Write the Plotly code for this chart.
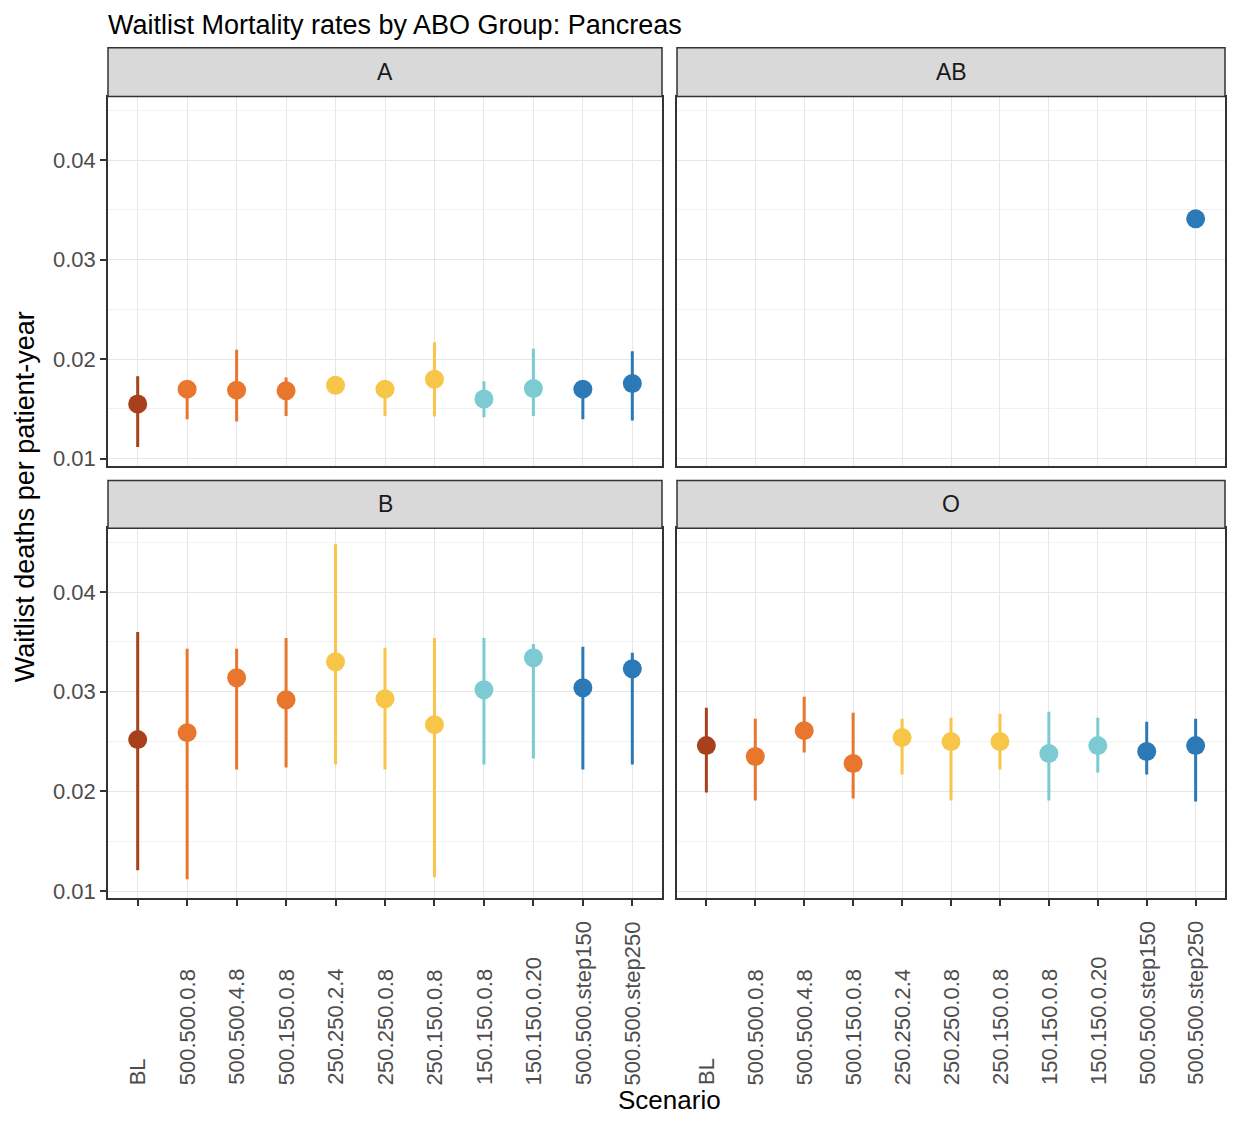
import plotly.graph_objects as go

W, H = 1235, 1131
OFF = 8  # default body margin of the page

scenarios = ["BL", "500.500.0.8", "500.500.4.8", "500.150.0.8", "250.250.2.4",
             "250.250.0.8", "250.150.0.8", "150.150.0.8", "150.150.0.20",
             "500.500.step150", "500.500.step250"]
scenario_colors = ["#A8411B", "#E8762C", "#E8762C", "#E8762C", "#F7C548",
                   "#F7C548", "#F7C548", "#7CCBD2", "#7CCBD2", "#2B79B6", "#2B79B6"]
groups = ["A", "AB", "B", "O"]

A_mean = [0.01548, 0.01698, 0.01688, 0.01681, 0.01738, 0.01698, 0.01797, 0.01598, 0.01704, 0.01698, 0.01754]
A_lo = [0.01116, 0.01395, 0.01372, 0.01428, 0.01690, 0.01428, 0.01422, 0.01415, 0.01428, 0.01395, 0.01382]
A_hi = [0.01827, 0.01750, 0.02093, 0.01814, 0.01780, 0.01720, 0.02170, 0.01778, 0.02103, 0.01750, 0.02080]

AB_mean = [None, None, None, None, None, None, None, None, None, None, 0.0341]
AB_lo = [None, None, None, None, None, None, None, None, None, None, 0.0341]
AB_hi = [None, None, None, None, None, None, None, None, None, None, 0.0341]

B_mean = [0.0252, 0.0259, 0.0314, 0.0292, 0.0330, 0.0293, 0.0267, 0.0302, 0.0334, 0.0304, 0.0323]
B_lo = [0.0121, 0.0112, 0.0222, 0.0224, 0.0227, 0.0222, 0.0114, 0.0227, 0.0233, 0.0222, 0.0227]
B_hi = [0.0360, 0.0343, 0.0343, 0.0354, 0.0448, 0.0344, 0.0354, 0.0354, 0.0348, 0.0345, 0.0339]

O_mean = [0.0246, 0.0235, 0.0261, 0.0228, 0.0254, 0.0250, 0.0250, 0.0238, 0.0246, 0.0240, 0.0246]
O_lo = [0.0199, 0.0191, 0.0239, 0.0193, 0.0217, 0.0191, 0.0222, 0.0191, 0.0219, 0.0217, 0.0190]
O_hi = [0.0284, 0.0273, 0.0295, 0.0279, 0.0273, 0.0274, 0.0278, 0.0280, 0.0274, 0.0270, 0.0273]

y_ticks = [0.01, 0.02, 0.03, 0.04]
y_tick_text = ["0.01", "0.02", "0.03", "0.04"]

title_text = "Waitlist Mortality rates by ABO Group: Pancreas"
y_title = "Waitlist deaths per patient-year"
x_title = "Scenario"

panel_data = {
    "A": (A_mean, A_lo, A_hi),
    "AB": (AB_mean, AB_lo, AB_hi),
    "B": (B_mean, B_lo, B_hi),
    "O": (O_mean, O_lo, O_hi),
}

FONT = "Liberation Sans, Arial, sans-serif"

# pixel layout (screen coordinates of the reference)
px_x = {"A": (108, 662), "AB": (677, 1225), "B": (108, 662), "O": (677, 1225)}
px_y = {"A": (97, 468), "AB": (97, 468), "B": (531, 903), "O": (531, 903)}
strip_y = {"A": (48, 97), "AB": (48, 97), "B": (483, 531), "O": (483, 531)}

FW, FH = W - 2 * OFF, H - 2 * OFF

def fx(p):
    return (p - OFF) / FW

def fy(p):
    return 1 - (p - OFF) / FH

fig = go.Figure()
shapes = []
annotations = []

for i, g in enumerate(groups):
    ax = "" if i == 0 else str(i + 1)
    xa, ya = "x" + ax, "y" + ax
    mean, lo, hi = panel_data[g]
    for j, sc in enumerate(scenarios):
        m = mean[j]
        if m is None:
            continue
        fig.add_trace(go.Scatter(
            x=[sc], y=[m], mode="markers",
            marker=dict(color=scenario_colors[j], size=19, line=dict(width=0)),
            error_y=dict(type="data", symmetric=False, array=[hi[j] - m],
                         arrayminus=[m - lo[j]], color=scenario_colors[j],
                         thickness=3, width=0),
            xaxis=xa, yaxis=ya, showlegend=False, hoverinfo="skip"))
    bottom = g in ("B", "O")
    left = g in ("A", "B")
    x0, x1 = px_x[g]
    y0, y1 = px_y[g]
    fig.layout["xaxis" + ax] = dict(
        domain=[fx(x0), fx(x1)], anchor=ya, type="category",
        categoryorder="array", categoryarray=scenarios,
        range=[-0.6, len(scenarios) - 0.4],
        showgrid=True, gridcolor="#E6E6E6", gridwidth=1.3,
        showline=True, mirror=True, linecolor="#333333", linewidth=1.5,
        ticks="outside" if bottom else "", ticklen=6, tickcolor="#333333", tickwidth=1.5,
        showticklabels=False, zeroline=False)
    fig.layout["yaxis" + ax] = dict(
        domain=[fy(y1), fy(y0)], anchor=xa,
        range=[0.0093, 0.0464],
        tickvals=y_ticks, ticktext=y_tick_text,
        showgrid=True, gridcolor="#E6E6E6", gridwidth=1.3,
        minor=dict(dtick=0.005, tick0=0.005, showgrid=True, gridcolor="#F2F2F2", gridwidth=0.9),
        showline=True, mirror=True, linecolor="#333333", linewidth=1.5,
        ticks="outside" if left else "", ticklen=6, tickcolor="#333333", tickwidth=1.5,
        showticklabels=left, tickfont=dict(size=22, color="#4D4D4D", family=FONT),
        zeroline=False)
    # strip
    sy0, sy1 = strip_y[g]
    shapes.append(dict(type="rect", xref="paper", yref="paper",
                       x0=fx(x0), x1=fx(x1), y0=fy(sy1), y1=fy(sy0),
                       fillcolor="#D9D9D9", line=dict(color="#333333", width=1.5)))
    annotations.append(dict(text=g, xref="paper", yref="paper",
                            x=fx((x0 + x1) / 2), y=fy((sy0 + sy1) / 2),
                            xanchor="center", yanchor="middle", showarrow=False,
                            font=dict(size=23, color="#1A1A1A", family=FONT)))
    if bottom:
        for sc in scenarios:
            annotations.append(dict(text=sc, xref=xa, yref="paper",
                                    x=sc, y=fy(1093), textangle=-90,
                                    xanchor="center", yanchor="bottom", showarrow=False,
                                    font=dict(size=22, color="#4D4D4D", family=FONT)))

annotations.append(dict(text=title_text, xref="paper", yref="paper",
                        x=fx(106), y=1.0, xanchor="left", yanchor="top",
                        showarrow=False, font=dict(size=27, color="#000000", family=FONT)))
annotations.append(dict(text=y_title, xref="paper", yref="paper",
                        x=fx(25), y=fy(500), textangle=-90, xanchor="center", yanchor="middle",
                        showarrow=False, font=dict(size=27, color="#000000", family=FONT)))
annotations.append(dict(text=x_title, xref="paper", yref="paper",
                        x=fx(669), y=0.0, xanchor="center", yanchor="bottom",
                        showarrow=False, font=dict(size=26, color="#000000", family=FONT)))

fig.update_layout(width=FW, height=FH, margin=dict(l=0, r=0, t=0, b=0),
                  paper_bgcolor="white", plot_bgcolor="white",
                  shapes=shapes, annotations=annotations,
                  font=dict(family=FONT))

fig.write_html("out.html")
